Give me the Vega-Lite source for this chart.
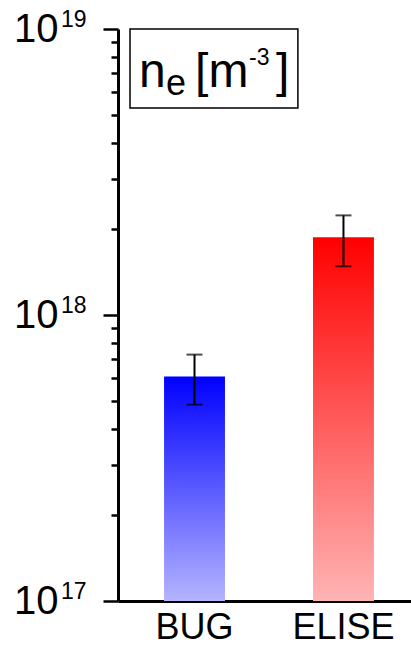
{
  "$schema": "https://vega.github.io/schema/vega-lite/v6.json",
  "width": 293,
  "height": 572,
  "autosize": {"type": "none"},
  "padding": {"left": 118, "top": 29, "right": 0, "bottom": 45},
  "background": "white",
  "config": {"view": {"stroke": null}, "font": "Liberation Sans"},
  "layer": [
    {
      "data": {"values": [
        {"cat": "BUG", "ne": 6.1e17, "lo": 4.86e17, "hi": 7.27e17},
        {"cat": "ELISE", "ne": 1.87e18, "lo": 1.48e18, "hi": 2.23e18}
      ]},
      "encoding": {
        "x": {
          "field": "cat", "type": "nominal", "sort": ["BUG", "ELISE"], "title": null,
          "scale": {"paddingInner": 0.591, "paddingOuter": 0.279, "align": 0.554},
          "axis": {"title": null, "ticks": false, "labelFontSize": 36, "labelColor": "black", "labelPadding": 9, "labelAngle": 0, "domainColor": "black", "domainWidth": 3, "labelFont": "Liberation Sans"}
        }
      },
      "layer": [
        {
          "transform": [{"filter": "datum.cat == 'BUG'"}],
          "mark": {"type": "bar", "color": {"gradient": "linear", "x1": 0, "y1": 0, "x2": 0, "y2": 1, "stops": [{"offset": 0, "color": "#0000ff"}, {"offset": 1, "color": "#b4b4ff"}]}},
          "encoding": {
            "y": {
              "field": "ne", "type": "quantitative", "title": null,
              "scale": {"type": "log", "domain": [1e17, 1e19]},
              "axis": {
                "title": null, "grid": false,
                "values": [1e17, 2e17, 3e17, 4e17, 5e17, 6e17, 7e17, 8e17, 9e17, 1e18, 2e18, 3e18, 4e18, 5e18, 6e18, 7e18, 8e18, 9e18, 1e19],
                "labelExpr": "(datum.value == 1e17 || datum.value == 1e18 || datum.value == 1e19) ? '10' : ''",
                "tickSize": {"condition": {"test": "datum.value == 1e17 || datum.value == 1e18 || datum.value == 1e19", "value": 15}, "value": 7},
                "tickWidth": 2.5, "tickColor": "black", "domainColor": "black", "domainWidth": 3,
                "labelFontSize": 40, "labelColor": "black", "labelPadding": 45, "labelOverlap": false, "labelFont": "Liberation Sans"
              }
            },
            "y2": {"datum": 1e17}
          }
        },
        {
          "transform": [{"filter": "datum.cat == 'ELISE'"}],
          "mark": {"type": "bar", "color": {"gradient": "linear", "x1": 0, "y1": 0, "x2": 0, "y2": 1, "stops": [{"offset": 0, "color": "#ff0000"}, {"offset": 1, "color": "#ffb4b4"}]}},
          "encoding": {
            "y": {"field": "ne", "type": "quantitative", "title": null},
            "y2": {"datum": 1e17}
          }
        },
        {
          "mark": {"type": "rule", "color": "black", "strokeWidth": 2},
          "encoding": {
            "y": {"field": "lo", "type": "quantitative", "title": null},
            "y2": {"field": "hi"}
          }
        },
        {
          "mark": {"type": "tick", "color": "black", "thickness": 2, "size": 16, "orient": "horizontal"},
          "encoding": {"y": {"field": "lo", "type": "quantitative", "title": null}}
        },
        {
          "mark": {"type": "tick", "color": "black", "thickness": 2, "size": 16, "orient": "horizontal"},
          "encoding": {"y": {"field": "hi", "type": "quantitative", "title": null}}
        }
      ]
    },
    {
      "layer": [
        {
          "data": {"values": [{"note": "legend"}]},
          "mark": {"type": "rect", "fill": null, "stroke": "black", "strokeWidth": 1.5},
          "encoding": {
            "x": {"datum": 0.041, "type": "quantitative", "scale": {"domain": [0, 1]}, "axis": null},
            "x2": {"datum": 0.614},
            "y": {"datum": 1e19, "type": "quantitative", "title": null},
            "y2": {"datum": 5.29e18}
          }
        },
        {
          "data": {"values": [{"note": "legend"}]},
          "mark": {"type": "text", "text": "n", "fontSize": 48, "align": "left", "baseline": "alphabetic", "color": "black", "font": "Liberation Sans"},
          "encoding": {
            "x": {"datum": 0.0717, "type": "quantitative"},
            "y": {"datum": 6.27e18, "type": "quantitative", "title": null}
          }
        },
        {
          "data": {"values": [{"note": "legend"}]},
          "mark": {"type": "text", "text": "e", "fontSize": 36, "align": "left", "baseline": "alphabetic", "color": "black", "font": "Liberation Sans"},
          "encoding": {
            "x": {"datum": 0.164, "type": "quantitative"},
            "y": {"datum": 5.88e18, "type": "quantitative", "title": null}
          }
        },
        {
          "data": {"values": [{"note": "legend"}]},
          "mark": {"type": "text", "text": "[m", "fontSize": 48, "align": "left", "baseline": "alphabetic", "color": "black", "font": "Liberation Sans"},
          "encoding": {
            "x": {"datum": 0.263, "type": "quantitative"},
            "y": {"datum": 6.27e18, "type": "quantitative", "title": null}
          }
        },
        {
          "data": {"values": [{"note": "legend"}]},
          "mark": {"type": "text", "text": "-3", "fontSize": 23, "align": "left", "baseline": "alphabetic", "color": "black", "font": "Liberation Sans"},
          "encoding": {
            "x": {"datum": 0.447, "type": "quantitative"},
            "y": {"datum": 7.48e18, "type": "quantitative", "title": null}
          }
        },
        {
          "data": {"values": [{"note": "legend"}]},
          "mark": {"type": "text", "text": "]", "fontSize": 48, "align": "left", "baseline": "alphabetic", "color": "black", "font": "Liberation Sans"},
          "encoding": {
            "x": {"datum": 0.539, "type": "quantitative"},
            "y": {"datum": 6.27e18, "type": "quantitative", "title": null}
          }
        },
        {
          "data": {"values": [{"exp": "19", "v": 1e19}, {"exp": "18", "v": 1e18}, {"exp": "17", "v": 1e17}]},
          "mark": {"type": "text", "fontSize": 23, "align": "left", "baseline": "alphabetic", "color": "black", "dy": -2.5, "font": "Liberation Sans"},
          "encoding": {
            "x": {"datum": -0.1945, "type": "quantitative"},
            "y": {"field": "v", "type": "quantitative", "title": null},
            "text": {"field": "exp"}
          }
        }
      ]
    }
  ],
  "resolve": {"scale": {"x": "independent"}}
}
